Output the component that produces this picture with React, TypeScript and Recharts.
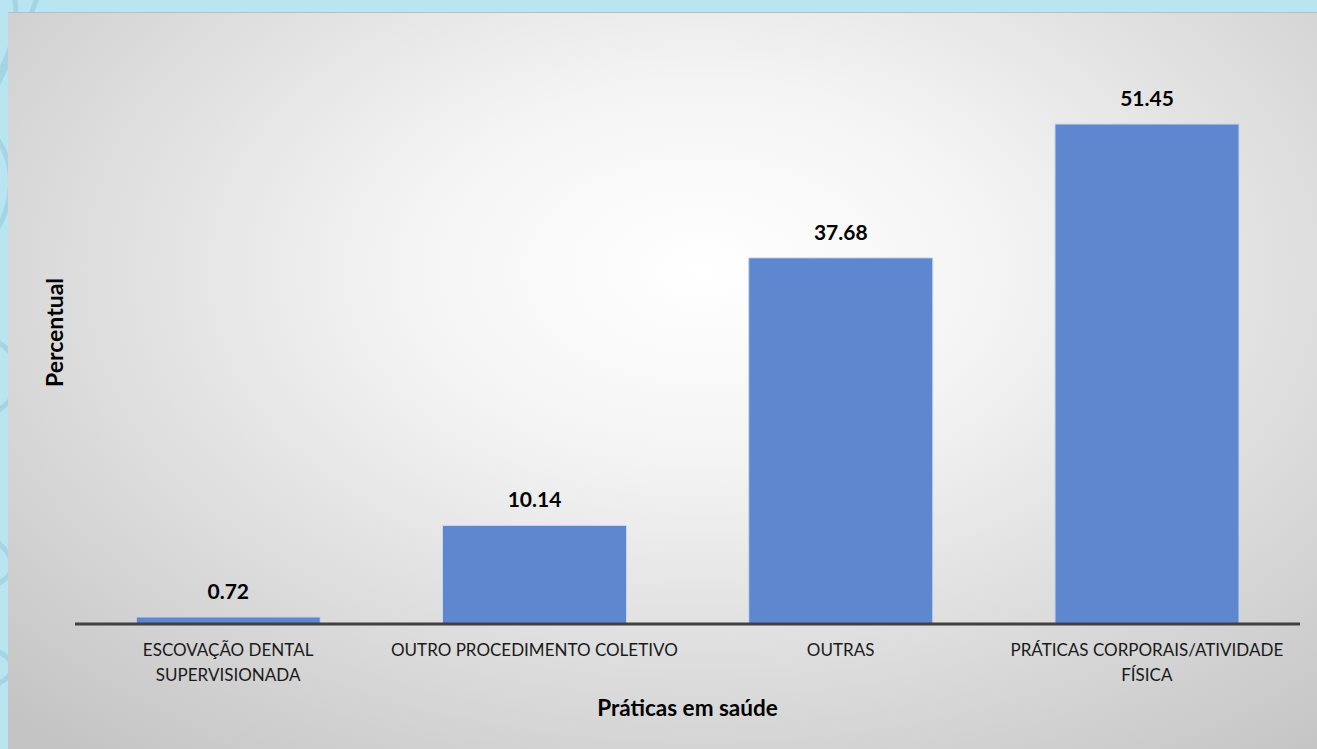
import { Bar, BarChart, LabelList, XAxis, YAxis, Label } from 'recharts';

// Práticas em saúde (percentual)
const categories = [
  'ESCOVAÇÃO DENTAL SUPERVISIONADA',
  'OUTRO PROCEDIMENTO COLETIVO',
  'OUTRAS',
  'PRÁTICAS CORPORAIS/ATIVIDADE FÍSICA',
];
const values = [0.72, 10.14, 37.68, 51.45];
const tickLines = [
  ['ESCOVAÇÃO DENTAL', 'SUPERVISIONADA'],
  ['OUTRO PROCEDIMENTO COLETIVO'],
  ['OUTRAS'],
  ['PRÁTICAS CORPORAIS/ATIVIDADE', 'FÍSICA'],
];

const FONT = 'Lato, "Open Sans", sans-serif';

const data = categories.map((name, i) => ({ name, value: values[i] }));

function CategoryTick(props: any) {
  const { x, y, index } = props;
  const lines = tickLines[index] || [props.payload.value];
  return (
    <text x={x} y={y} textAnchor="middle" fontFamily={FONT} fontSize={17} fill="#1a1a1a">
      {lines.map((l: string, i: number) => (
        <tspan key={i} x={x} dy={i === 0 ? 30 : 25}>
          {l}
        </tspan>
      ))}
    </text>
  );
}

export default function App() {
  return (
    <div
      style={{
        position: 'absolute',
        left: 0,
        top: 0,
        width: 1317,
        height: 749,
        overflow: 'hidden',
        background: '#b9e5f3',
      }}
    >
      {/* decorative swirls of the slide background */}
      <svg width={1317} height={749} style={{ position: 'absolute', left: 0, top: 0 }}>
        <g fill="none" stroke="#98c9d8" strokeWidth={5} opacity={0.6}>
          <path d="M -20 120 C 10 60, 30 20, 40 -10" />
          <path d="M -10 90 C 20 40, 20 10, 10 -20" />
          <path d="M -30 260 C 20 220, 20 160, -10 130" />
          <path d="M -20 420 C 30 400, 30 360, -5 340" />
          <path d="M -20 590 C 20 580, 20 560, -5 540" />
          <path d="M -20 690 C 20 680, 20 660, -5 650" />
        </g>
      </svg>
      <div
        style={{
          position: 'absolute',
          left: 8,
          top: 12,
          width: 1309,
          height: 737,
          borderTop: '1px solid #bdbdbd',
          boxSizing: 'border-box',
          background:
            'radial-gradient(ellipse 75% 85% at 53% 35%, #ffffff 0%, #f4f4f4 30%, #dcdcdc 65%, #c4c4c4 100%)',
        }}
      >
        <BarChart
          width={1309}
          height={736}
          data={data}
          margin={{ top: 28, right: 17, left: 27, bottom: 0 }}
          barCategoryGap="20%"
        >
          <XAxis
            dataKey="name"
            height={125}
            interval={0}
            tickLine={false}
            tickSize={0}
            axisLine={{ stroke: '#404040', strokeWidth: 3 }}
            tick={<CategoryTick />}
          >
            <Label
              value="Práticas em saúde"
              position="insideBottom"
              offset={33}
              fontFamily={FONT}
              fontWeight={700}
              fontSize={22.5}
              fill="#000000"
            />
          </XAxis>
          <YAxis
            domain={[0, 60]}
            width={40}
            tick={false}
            tickLine={false}
            axisLine={false}
          >
            <Label
              value="Percentual"
              angle={-90}
              position="center"
              fontFamily={FONT}
              fontWeight={700}
              fontSize={23}
              fill="#000000"
            />
          </YAxis>
          <Bar dataKey="value" fill="#5f87cf" stroke="#c7d5ee" strokeWidth={1} isAnimationActive={false}>
            <LabelList
              dataKey="value"
              position="top"
              offset={18}
              fontFamily={FONT}
              fontWeight={700}
              fontSize={21}
              fill="#000000"
            />
          </Bar>
        </BarChart>
      </div>
    </div>
  );
}
